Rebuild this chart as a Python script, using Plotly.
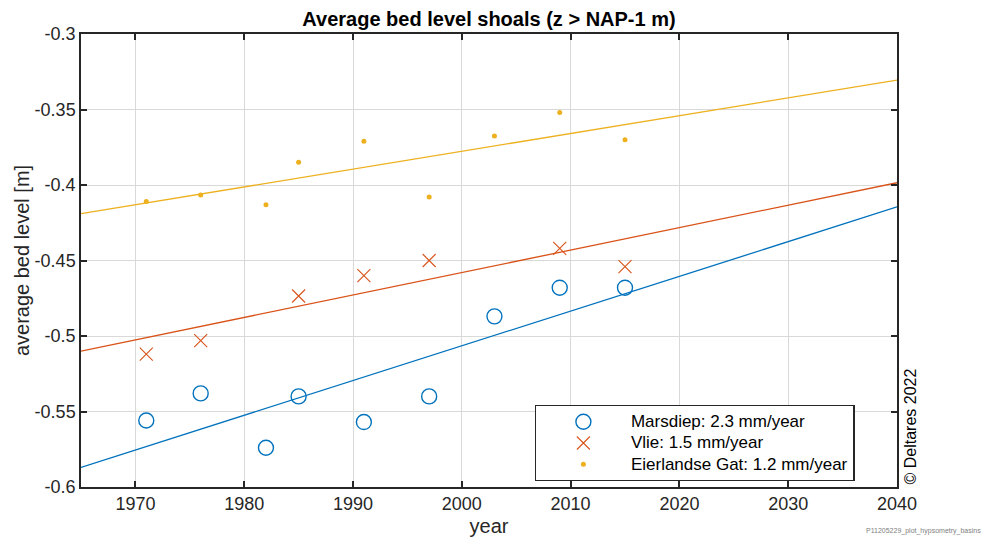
import plotly.graph_objects as go

# survey years and mean bed level (m w.r.t. NAP) of the shoals
years = [1971, 1976, 1982, 1985, 1991, 1997, 2003, 2009, 2015]
marsdiep = [-0.556, -0.538, -0.574, -0.540, -0.557, -0.540, -0.487, -0.468, -0.468]

vlie_years = [1971, 1976, 1985, 1991, 1997, 2009, 2015]
vlie = [-0.512, -0.503, -0.4735, -0.460, -0.450, -0.442, -0.454]

eierland = [-0.411, -0.4066, -0.413, -0.385, -0.371, -0.408, -0.3675, -0.352, -0.370]

# trend lines (end points)
trend_years = [1965, 2040]
marsdiep_trend = [-0.587, -0.4145]
vlie_trend = [-0.510, -0.3985]
eierland_trend = [-0.419, -0.3305]

names = ["Marsdiep: 2.3 mm/year", "Vlie: 1.5 mm/year", "Eierlandse Gat: 1.2 mm/year"]
colors = ["#0072BD", "#D95319", "#EDB120"]

x_ticks = [1970, 1980, 1990, 2000, 2010, 2020, 2030, 2040]
y_ticks = [-0.6, -0.55, -0.5, -0.45, -0.4, -0.35, -0.3]

FONT = "Liberation Sans, Arial, sans-serif"
DARK = "#262626"


def leg(name):
    # larger text than the legend font, so the rows stay tight
    return f"<span style='font-size:17px'>{name}</span>"


fig = go.Figure()

# === trend lines ===
for ys, c in zip([marsdiep_trend, vlie_trend, eierland_trend], colors):
    fig.add_trace(go.Scatter(
        x=trend_years, y=ys, mode="lines", line=dict(color=c, width=1.3),
        showlegend=False, hoverinfo="skip"
    ))

# === measurements ===
fig.add_trace(go.Scatter(
    x=years, y=marsdiep, mode="markers", name=leg(names[0]),
    marker=dict(symbol="circle-open", size=15, color=colors[0], line=dict(width=1.4))
))
fig.add_trace(go.Scatter(
    x=vlie_years, y=vlie, mode="markers", name=leg(names[1]),
    marker=dict(symbol="x-thin-open", size=13, color=colors[1], line=dict(width=1.1, color=colors[1]))
))
fig.add_trace(go.Scatter(
    x=years, y=eierland, mode="markers", name=leg(names[2]),
    marker=dict(symbol="circle", size=5, color=colors[2])
))

axis_common = dict(
    showgrid=True, gridcolor="#d9d9d9", gridwidth=1,
    showline=True, linecolor=DARK, linewidth=1.5, mirror="ticks",
    ticks="inside", ticklen=6, tickcolor=DARK, tickwidth=1.5,
    tickfont=dict(family=FONT, size=18, color=DARK),
    zeroline=False, automargin=False,
)

fig.update_xaxes(
    range=[1965, 2040], tickvals=x_ticks,
    title=dict(text="year", font=dict(family=FONT, size=20, color=DARK), standoff=6),
    **axis_common
)
fig.update_yaxes(
    range=[-0.6, -0.3], tickvals=y_ticks, ticktext=[f"{v:g}" for v in y_ticks],
    title=dict(text="average bed level [m]", font=dict(family=FONT, size=20, color=DARK), standoff=0),
    **axis_common
)

fig.update_layout(
    width=991, height=540,
    margin=dict(l=81, r=94, t=34, b=53),
    paper_bgcolor="white", plot_bgcolor="white",
    title=dict(
        text="<b>Average bed level shoals (z > NAP-1 m)</b>",
        font=dict(family=FONT, size=20, color="black"),
        x=(81 + 897) / 2 / 991, xanchor="center", y=0.978, yanchor="top"
    ),
    legend=dict(
        x=0.556, y=0.181, xanchor="left", yanchor="top",
        bgcolor="white", bordercolor=DARK, borderwidth=1.2,
        font=dict(family=FONT, size=14, color="black"),
        itemwidth=85, tracegroupgap=0,
    ),
    showlegend=True,
)

fig.add_annotation(
    text="© Deltares 2022", textangle=-90, xref="paper", yref="paper",
    x=1.0, y=0.0, xanchor="left", yanchor="bottom", xshift=2,
    showarrow=False, font=dict(family=FONT, size=16, color="black")
)
fig.add_annotation(
    text="P11205229_plot_hypsometry_basins", xref="paper", yref="paper",
    x=1.105, y=-0.097, xanchor="right", yanchor="middle",
    showarrow=False, font=dict(family=FONT, size=7, color="#808080")
)

# drop the default body margin so the figure sits at the page origin
fig.write_html(
    "out.html",
    config={"displayModeBar": False},
    post_script="document.body.style.margin='0';",
)
